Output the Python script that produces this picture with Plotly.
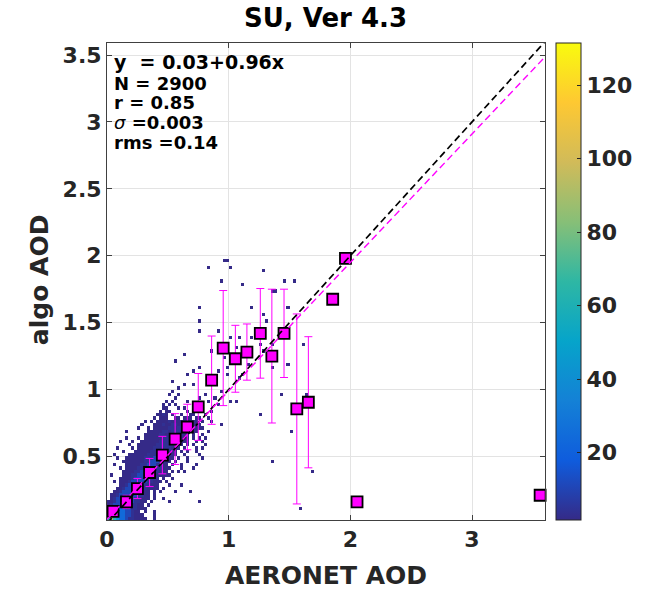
import numpy as np
import plotly.graph_objects as go

# ---------------- data ----------------
title_text = "SU, Ver 4.3"
x_label = "AERONET AOD"
y_label = "algo AOD"

x_tickvals = [0, 1, 2, 3]
x_ticktext = ["0", "1", "2", "3"]
y_tickvals = [0.5, 1, 1.5, 2, 2.5, 3, 3.5]
y_ticktext = ["0.5", "1", "1.5", "2", "2.5", "3", "3.5"]
cbar_tickvals = [20, 40, 60, 80, 100, 120]
cbar_ticktext = ["20", "40", "60", "80", "100", "120"]

stats_lines = ["y  = 0.03+0.96x", "N = 2900", "r = 0.85", "σ =0.003", "rms =0.14"]
fit_intercept = 0.03
fit_slope = 0.96

# binned means (magenta squares) with std error bars
bin_x = [0.05, 0.16, 0.25, 0.35, 0.455, 0.56, 0.66, 0.75, 0.86, 0.955, 1.055,
         1.15, 1.26, 1.355, 1.455, 1.56, 1.655, 1.855, 1.96, 2.055, 3.56]
bin_y = [0.09, 0.16, 0.26, 0.38, 0.51, 0.63, 0.72, 0.87, 1.07, 1.31, 1.23,
         1.28, 1.42, 1.25, 1.42, 0.855, 0.905, 1.675, 1.98, 0.16, 0.21]
bin_err = [0.04, 0.05, 0.075, 0.105, 0.14, 0.19, 0.17, 0.25, 0.33, 0.43, 0.25,
           0.21, 0.335, 0.5, 0.33, 0.71, 0.49, 0, 0, 0, 0]

# 2-D histogram (bin 0.025 x 0.025) of the dense part, x 0..1, y 0..1
# rows from top (y 0.975-1.0) to bottom (y 0-0.025); 40 columns each
count_level = {".": None, "1": 1.8, "2": 4, "3": 11, "4": 24, "5": 40,
               "6": 62, "7": 92, "8": 131}
hist_rows = [
    ".......... .......... .1........ .......1..",
    ".......... .......... 1..1...... ..1.......",
    ".......... .......... ..1....... 1....1....",
    ".......... .........1 .1....1... ...1......",
    ".......... ........1. 1.1.....1. ......1...",
    ".......... ........11 ...1.1.... .1........",
    ".......... .......1.1 1.....1..1 1...1.....",
    ".......... ......1121 .1..1..11. ..1.......",
    ".......... .....1.111 ..11.111.1 1..1......",
    ".......... ..1.1.1111 2111121111 .1..1.....",
    ".......... .1...11121 1221211211 1......1..",
    ".......... 1..1.11111 2212221111 11........",
    "......1... ...1111122 1222211.11 ...1......",
    ".......... ..11111221 2222111.1. .1........",
    "......1... 1.11111122 2221111.1. 1.1.......",
    "....1...1. .111111222 2211111..1 .1........",
    ".......1.. 1111112222 22111.1.1. ..1.......",
    "...1....1. 1111122222 2111.1...1 .1........",
    ".....1...1 1111222232 211.1.1..1 ..........",
    "..1....111 1112223322 111..1.... 1.........",
    "...1..1111 1122233221 11.1..1... .1........",
    ".....11111 1122333221 1.1...1... ..........",
    "..1...1111 1223332211 .1..1....1 ..........",
    "....1.1111 2233332211 1...1...1. ..........",
    ".....11112 2333322111 .1.1.1.... ..........",
    ".1...11122 3333221111 1......... ..........",
    "....111123 3333221.1. .1........ ..........",
    "..1.111233 33322111.1 .......... ..........",
    "....112333 3322111... 1...1..... ..........",
    "...1123333 3221111.1. .......... ..........",
    "..11233333 2211.1.1.. ..1....1.. ..........",
    ".112333333 2211.1.... .......... ..........",
    ".123333332 2111.1..1. .......... ..........",
    "1123333332 211.1..... 1......... 1.........",
    "1233343322 11.1...... .......... ..........",
    "2334443322 111....... .......... ..........",
    "3344443321 1.1..1.... .......... ..........",
    "4455443321 11...1.... .......... ..........",
    "6765443221 111..1.... .......... ..........",
    "8776543221 1.1..1.... .......... ..........",
]

# isolated single-count cells outside the dense block
sparse_x = [0.84, 0.97, 0.995, 1.02, 0.94, 1.11, 1.29, 1.46, 1.54, 0.77, 1.19,
            1.29, 1.36, 1.385, 1.49, 0.77, 0.77, 0.90, 1.02, 1.09, 1.19, 1.31,
            1.27, 1.37, 1.62, 0.90, 0.87, 1.00, 0.98, 0.98, 0.97, 1.07, 1.16,
            1.09, 1.12, 1.02, 1.06, 1.49, 1.64, 1.44, 1.27, 1.52, 1.36, 1.69,
            1.59, 0.56, 0.635, 0.72, 0.76, 0.91, 0.545, 0.63, 0.71, 1.37, 1.29,
            0.60, 0.66]
sparse_y = [1.91, 1.97, 1.97, 1.91, 1.82, 1.79, 1.89, 1.82, 1.82, 1.62, 1.62,
            1.57, 1.74, 1.74, 1.62, 1.50, 1.44, 1.44, 1.40, 1.40, 1.40, 1.50,
            1.34, 1.34, 1.34, 1.32, 1.28, 1.39, 1.17, 1.10, 1.24, 1.32, 1.20,
            1.08, 1.12, 0.90, 0.90, 1.19, 0.97, 0.97, 0.80, 0.68, 0.475, 0.38,
            0.11, 1.22, 1.25, 1.15, 1.17, 1.13, 1.07, 1.04, 1.04, 1.17, 1.28,
            1.02, 1.10]

bin_size = 0.025
# ---------------------------------------------------------------

nx, ny = 144, 84
z = [[None] * nx for _ in range(ny)]
nrows = len(hist_rows)
for r, row in enumerate(hist_rows):
    s = row.replace(" ", "")
    j = nrows - 1 - r
    for i, ch in enumerate(s):
        z[j][i] = count_level[ch]
for sx, sy in zip(sparse_x, sparse_y):
    i, j = int(sx / bin_size), int(sy / bin_size)
    z[j][i] = 1.8 if z[j][i] is None else z[j][i] + 1

xc = (np.arange(nx) + 0.5) * bin_size
yc = (np.arange(ny) + 0.5) * bin_size

parula = [[0.0, "#352a87"], [0.125, "#0f5cdd"], [0.25, "#1481d6"],
          [0.375, "#06a4ca"], [0.5, "#2eb7a4"], [0.625, "#87bf77"],
          [0.75, "#d1bb59"], [0.875, "#fec832"], [1.0, "#f9fb0e"]]

FONT = "DejaVu Sans"
tickfont = dict(family=FONT, size=22, color="#262626", weight="bold")

fig = go.Figure()
fig.add_trace(go.Heatmap(
    x=xc, y=yc, z=z, colorscale=parula, zmin=1.7, zmax=131.5,
    hoverinfo="skip",
    colorbar=dict(x=1.025, xanchor="left", xpad=0, ypad=0, y=0.5,
                  yanchor="middle", len=1.0, lenmode="fraction",
                  thickness=25, outlinecolor="#262626", outlinewidth=1,
                  ticks="inside", ticklen=4, tickcolor="#262626",
                  tickvals=cbar_tickvals, ticktext=cbar_ticktext,
                  tickfont=tickfont),
))

fig.add_trace(go.Scatter(
    x=bin_x, y=bin_y, mode="markers", cliponaxis=False,
    marker=dict(symbol="square", size=11, color="#ff00ff",
                line=dict(color="black", width=1.8)),
    error_y=dict(type="data", array=bin_err, color="#ff00ff",
                 thickness=1, width=4),
    showlegend=False,
))

x_range = [0, 3.6]
y_range = [0.025, 3.59]
line_x = x_range
fig.add_trace(go.Scatter(
    x=line_x, y=line_x, mode="lines",
    line=dict(color="black", width=1.7, dash="7px,4px"), showlegend=False))
fig.add_trace(go.Scatter(
    x=line_x, y=[fit_intercept + fit_slope * v for v in line_x], mode="lines",
    line=dict(color="#ff00ff", width=1.4, dash="7px,4px"), showlegend=False))

axis_common = dict(showgrid=True, gridcolor="#e3e3e3", gridwidth=1,
                   showline=True, linecolor="#404040", linewidth=1,
                   mirror="ticks", ticks="inside", ticklen=5,
                   tickcolor="#404040", tickfont=tickfont, zeroline=False)
fig.update_xaxes(range=x_range, tickvals=x_tickvals, ticktext=x_ticktext,
                 **axis_common)
fig.update_yaxes(range=y_range, tickvals=y_tickvals, ticktext=y_ticktext,
                 **axis_common)

annotations = []
stat_y = [3.445, 3.29, 3.147, 2.997, 2.847]
for k, (txt, yy) in enumerate(zip(stats_lines, stat_y)):
    if txt.startswith("σ"):
        t = "<i>σ</i><b>" + txt[1:] + "</b>"
        f = dict(family=FONT, size=18, color="black", weight="normal")
    else:
        t = txt
        f = dict(family=FONT, size=19 if k == 0 else 18, color="black",
                 weight="bold")
    annotations.append(dict(x=0.045, y=yy, xref="x", yref="y", text=t,
                            showarrow=False, xanchor="left", yanchor="middle",
                            font=f))
annotations.append(dict(x=0.499, y=1.052, xref="paper", yref="paper",
                        text=title_text, showarrow=False, xanchor="center",
                        yanchor="middle",
                        font=dict(family=FONT, size=26, color="black",
                                  weight="bold")))
annotations.append(dict(x=0.499, y=-0.117, xref="paper", yref="paper",
                        text=x_label, showarrow=False, xanchor="center",
                        yanchor="middle",
                        font=dict(family=FONT, size=25, color="#262626",
                                  weight="bold")))
annotations.append(dict(x=-0.155, y=0.503, xref="paper", yref="paper",
                        text=y_label, showarrow=False, xanchor="center",
                        yanchor="middle", textangle=-90,
                        font=dict(family=FONT, size=25, color="#262626",
                                  weight="bold")))

fig.update_layout(width=649, height=591,
                  margin=dict(l=107, r=102, t=43, b=71, pad=0),
                  paper_bgcolor="white", plot_bgcolor="white",
                  annotations=annotations, showlegend=False)

fig.write_html("out.html", config={"displayModeBar": False},
               post_script="document.body.style.margin='0px';"
                           "document.body.style.overflow='hidden';")
